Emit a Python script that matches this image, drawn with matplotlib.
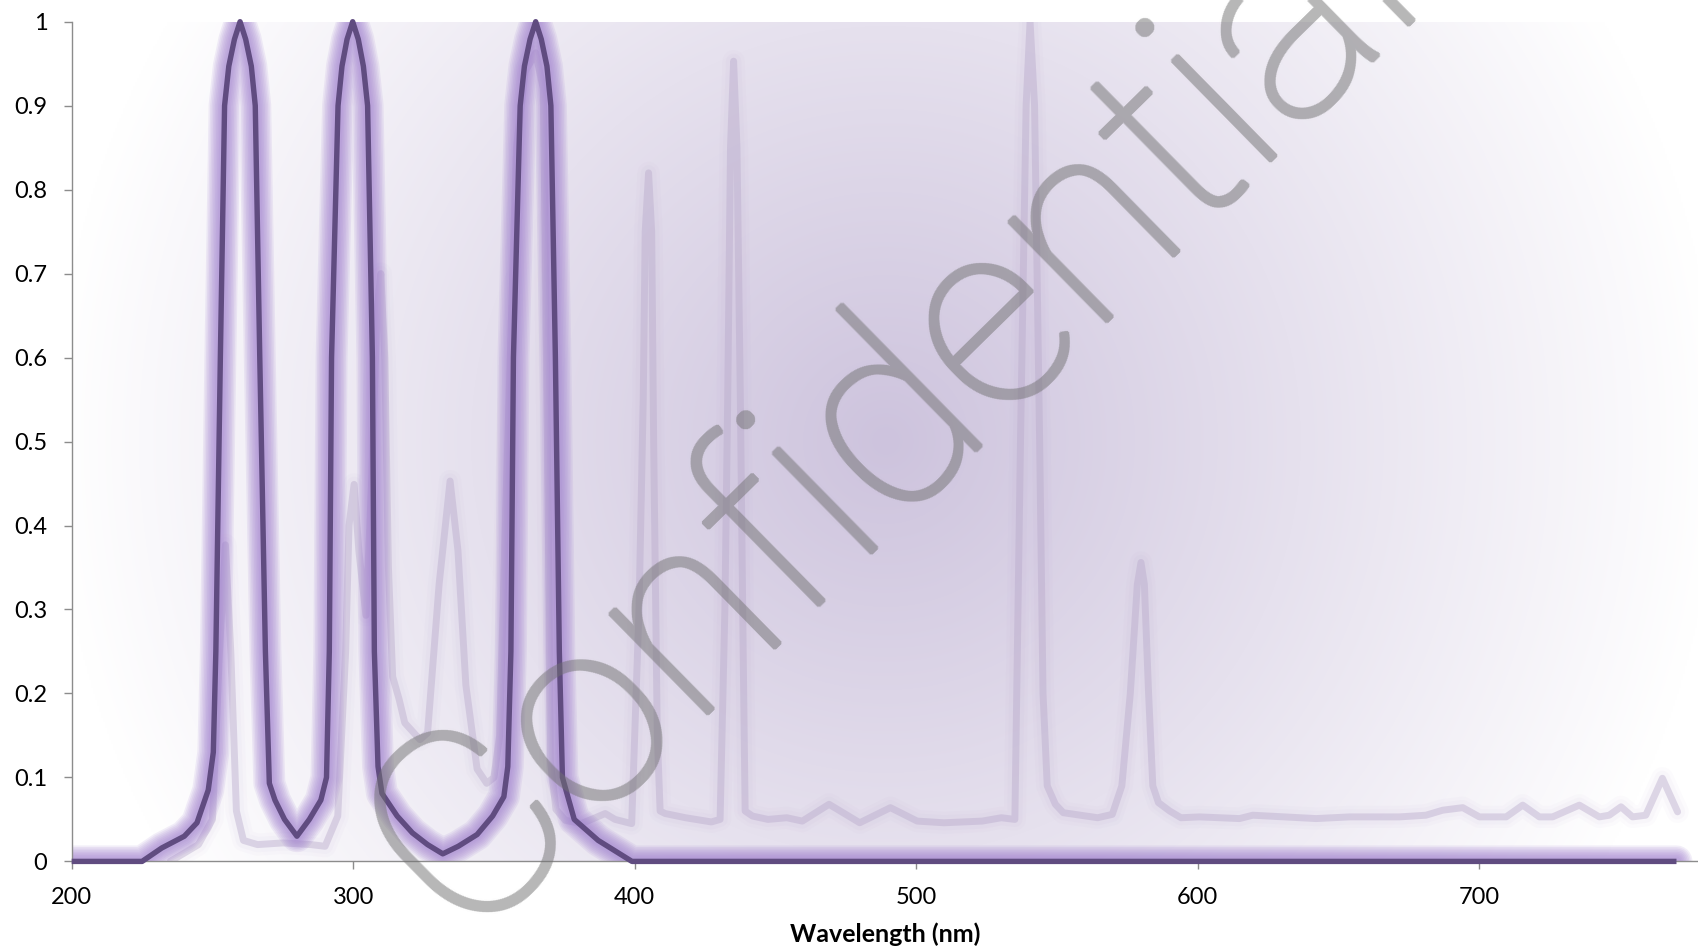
import matplotlib
matplotlib.use("Agg")
import matplotlib.pyplot as plt
import numpy as np
from matplotlib.ticker import FuncFormatter

plt.rcParams['font.family'] = ['Lato', 'DejaVu Sans']

# filter transmission (dark line)
filter_wl = [200, 225, 232, 240, 244.5, 248.5, 250.3, 251.2, 252.8, 254.3, 255.8, 257.8, 259.8,
             261.8, 263.8, 265.2, 266.8, 268.8, 270.2, 272.2, 275.6, 280, 284.4, 288.5, 290.5,
             291.5, 292.3, 294.6, 296, 297.8, 299.8, 301.8, 303.6, 305.1, 306.8, 307.5, 308.8,
             310.2, 315.6, 321, 326.4, 331.8, 337.3, 344, 349.5, 353.5, 354.9, 356, 356.9, 359.3,
             360.8, 362.8, 364.8, 366.8, 368.8, 370.2, 371.8, 373.2, 374.3, 378.5, 387, 399, 770]
filter_val = [0, 0, 0.016, 0.030, 0.046, 0.085, 0.13, 0.25, 0.60, 0.90, 0.947, 0.979, 1.0,
              0.979, 0.947, 0.90, 0.60, 0.25, 0.093, 0.073, 0.050, 0.030, 0.050, 0.073, 0.10,
              0.25, 0.60, 0.90, 0.947, 0.979, 1.0, 0.979, 0.947, 0.90, 0.60, 0.25, 0.113,
              0.081, 0.054, 0.034, 0.020, 0.009, 0.018, 0.032, 0.054, 0.077, 0.113, 0.25, 0.60, 0.90,
              0.947, 0.979, 1.0, 0.979, 0.947, 0.90, 0.60, 0.25, 0.10, 0.05, 0.025, 0.0, 0]

# lamp spectrum (faint line)
lamp_wl = [235, 245, 250, 252.5, 254.6, 256.5, 258.5, 261, 266, 275, 285, 290, 294.5, 297.3,
           298.5, 300.3, 302, 304.5, 306.5, 308.5, 309.8, 311.2, 312.5, 314, 316.3, 318.3, 323.7,
           326.4, 330.5, 334.4, 337.2, 340, 344, 347.4, 350, 352, 354, 358, 361, 364.8, 367.5,
           369, 370, 372, 375.3, 381, 386, 389.5, 393, 398.9, 401.5, 403, 403.7, 404.9, 406,
           406.7, 408, 409, 410.8, 418, 427.2, 430.3, 432, 433, 434, 435.1, 436.3, 437.5, 438.5,
           439.2, 441.8, 447.3, 454, 459.5, 469, 479.9, 490.8, 500.3, 509.8, 523.4, 530.2, 535,
           537, 539, 540.4, 542, 543.8, 545, 546.5, 549.4, 552.2, 564.4, 569.6, 573, 576, 578.5,
           579.8, 581, 582.5, 584, 586, 590, 594, 600.6, 614.8, 619.5, 642, 653.9, 671.6, 681,
           687, 694.1, 700, 709.5, 715.4, 721.3, 726, 735.5, 742.6, 746.1, 750.3, 754.4, 759.1,
           765, 770.4]
lamp_val = [0, 0.02, 0.05, 0.25, 0.377, 0.25, 0.06, 0.025, 0.02, 0.022, 0.02, 0.018, 0.054, 0.25,
            0.40, 0.449, 0.37, 0.293, 0.45, 0.66, 0.70, 0.60, 0.35, 0.22, 0.193, 0.165, 0.145,
            0.153, 0.33, 0.453, 0.37, 0.21, 0.11, 0.093, 0.10, 0.15, 0.40, 0.85, 0.94, 0.963, 0.92,
            0.5, 0.12, 0.062, 0.049, 0.045, 0.052, 0.057, 0.05, 0.045, 0.30, 0.55, 0.75, 0.82, 0.75,
            0.5, 0.15, 0.06, 0.057, 0.052, 0.047, 0.05, 0.30, 0.55, 0.85, 0.953, 0.85, 0.55, 0.25,
            0.06, 0.054, 0.05, 0.052, 0.048, 0.068, 0.046, 0.064, 0.048, 0.046, 0.048, 0.052, 0.05,
            0.5, 0.9, 1.0, 0.9, 0.5, 0.2, 0.09, 0.068, 0.058, 0.052, 0.056, 0.09, 0.2, 0.33,
            0.356, 0.33, 0.2, 0.09, 0.07, 0.06, 0.052, 0.053, 0.051, 0.055, 0.051, 0.053, 0.053, 0.055,
            0.061, 0.064, 0.053, 0.053, 0.067, 0.053, 0.053, 0.067, 0.053, 0.055, 0.065, 0.053, 0.055,
            0.099, 0.059]

x_ticks = [200, 300, 400, 500, 600, 700]
y_ticks = [0, 0.1, 0.2, 0.3, 0.4, 0.5, 0.6, 0.7, 0.8, 0.9, 1]

WM_GREY = np.array([112, 112, 112]) / 255.0


def thicken(im, dpi):
    # grow the watermark strokes a little (light font is thinner than the original)
    a = im[:, :, 3]
    pad = 3
    h, w = a.shape
    ap = np.pad(a, 2 * pad)
    out = np.zeros((h + 2 * pad, w + 2 * pad))
    for dy in range(-pad, pad + 1):
        for dx in range(-pad, pad + 1):
            if dx * dx + dy * dy <= 2.6 ** 2:
                out = np.maximum(out, ap[pad + dy:pad + dy + h + 2 * pad,
                                         pad + dx:pad + dx + w + 2 * pad])
    res = np.zeros((h + 2 * pad, w + 2 * pad, 4))
    res[:, :, :3] = WM_GREY
    res[:, :, 3] = out
    return res, -pad, -pad


fig = plt.figure(figsize=(16.99, 9.49), dpi=100)
ax = fig.add_axes([71.7 / 1699, 1 - 861.4 / 949, 1 - 71.7 / 1699, (861.4 - 21.7) / 949])
x0, x1 = 200, 778
ax.set_xlim(x0, x1)
ax.set_ylim(0, 1)

# radial background gradient
W, H = 814, 420
gx, gy = np.meshgrid(np.arange(W) + 0.5, np.arange(H) + 0.5)
r = np.sqrt((gx - W / 2) ** 2 + (gy - H / 2) ** 2) / 415.0
t = np.clip(1 - r, 0, 1)
centre = np.array([205, 195, 221]) / 255.0
img = 1 - (1 - centre)[None, None, :] * t[:, :, None]
ax.imshow(img, extent=[x0, x1, 0, 1], aspect='auto', zorder=0, interpolation='bilinear')

# lamp spectrum with soft glow
for w, a in [(16, 0.03), (11, 0.04)]:
    ax.plot(lamp_wl, lamp_val, color='#a78fc6', lw=w, alpha=a, solid_joinstyle='round',
            solid_capstyle='round', zorder=2)
ax.plot(lamp_wl, lamp_val, color='#b7a8ca', lw=5, alpha=0.42, solid_joinstyle='round',
        solid_capstyle='round', zorder=3)

# filter line with glow
for w in np.linspace(23, 7, 8):
    ax.plot(filter_wl, filter_val, color='#a07fcf', lw=w, alpha=0.13, solid_joinstyle='round',
            solid_capstyle='round', zorder=4)
ax.plot(filter_wl, filter_val, color='#604c80', lw=3.9, solid_joinstyle='round',
        solid_capstyle='butt', zorder=6, clip_on=False)

for s in ['top', 'right']:
    ax.spines[s].set_visible(False)
for s in ['left', 'bottom']:
    ax.spines[s].set_color('#8c8c8c')
    ax.spines[s].set_linewidth(1.0)
    ax.spines[s].set_zorder(5)

ax.set_xticks(x_ticks)
ax.set_yticks(y_ticks)
ax.yaxis.set_major_formatter(FuncFormatter(lambda v, p: '%g' % v))
ax.tick_params(axis='both', direction='out', length=5.5, width=1.0, color='#8c8c8c',
               labelsize=17, labelcolor='black')
ax.tick_params(axis='y', pad=12)
ax.tick_params(axis='x', pad=13)
ax.set_xlabel('Wavelength (nm)', fontsize=18, fontweight='bold', labelpad=10)

wm = fig.text(462 / 1699, 1 - 937 / 949, 'Confidential', rotation=44.5, rotation_mode='anchor',
              ha='left', va='baseline', fontsize=190, color=WM_GREY, alpha=0.5,
              fontweight='light', family=['Roboto', 'DejaVu Sans'], zorder=10)
wm.set_agg_filter(thicken)

fig.savefig('out.png', dpi=100)
